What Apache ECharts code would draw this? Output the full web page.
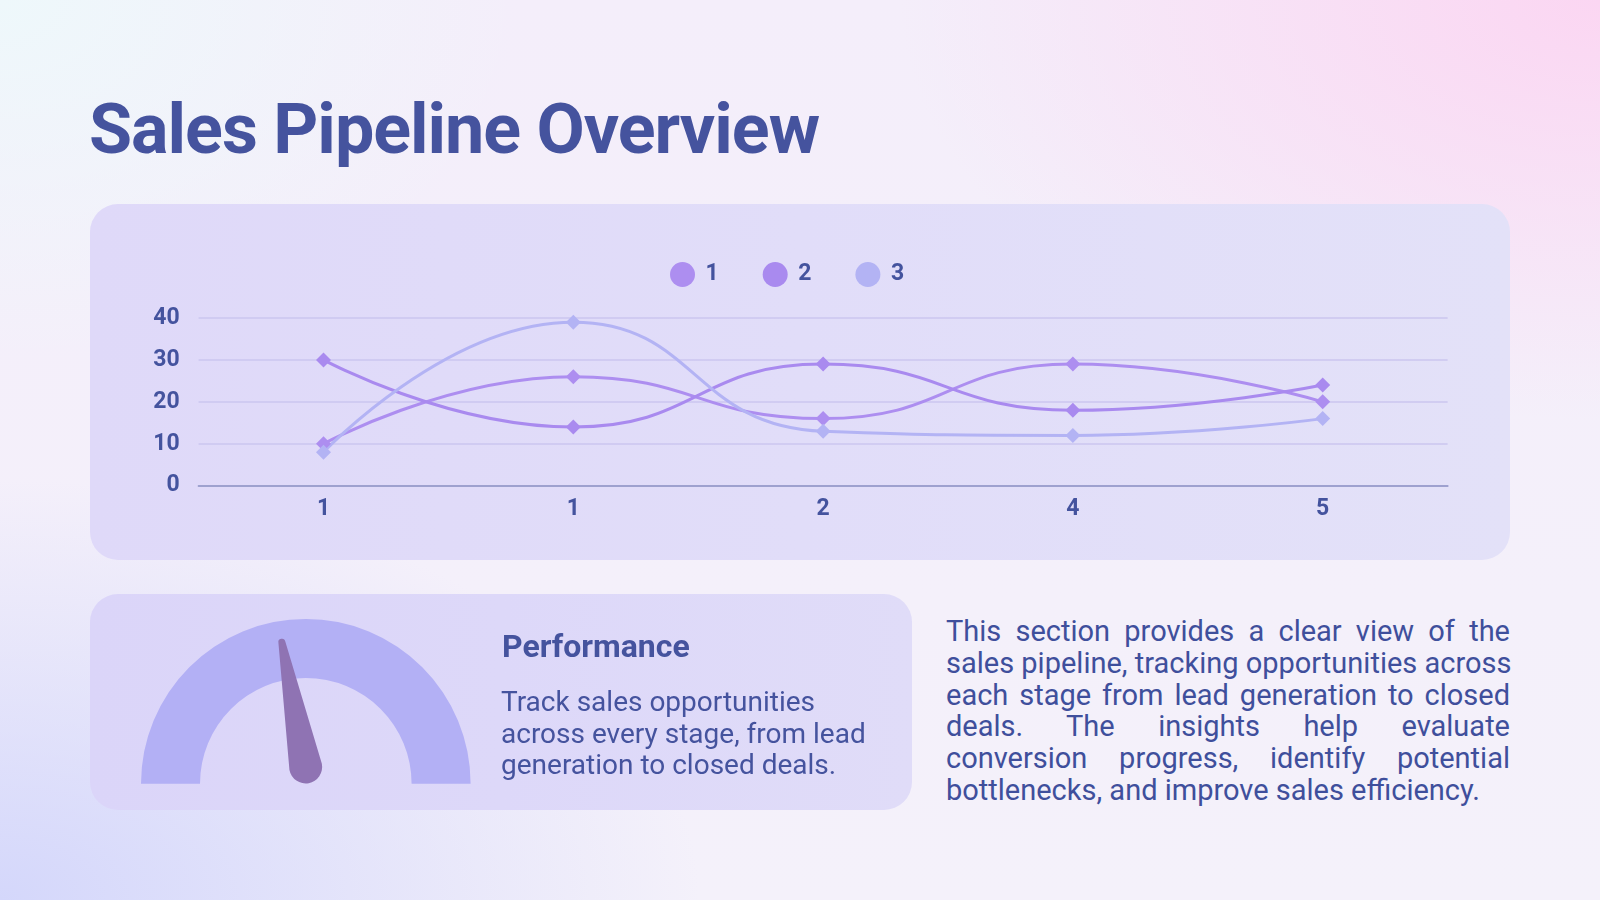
<!DOCTYPE html>
<html>
<head>
<meta charset="utf-8">
<title>Sales Pipeline Overview</title>
<script src="https://cdn.jsdelivr.net/npm/echarts@6/dist/echarts.min.js"></script>
<style>
  html, body {
    margin: 0;
    padding: 0;
    width: 1600px;
    height: 900px;
    overflow: hidden;
    font-family: Roboto, "Noto Sans", sans-serif;
  }
  body {
    position: relative;
    background:
      radial-gradient(ellipse 700px 420px at 100% 0%, rgba(251, 214, 242, 1), rgba(251, 214, 242, 0) 100%),
      radial-gradient(ellipse 700px 420px at 0% 100%, rgba(212, 215, 251, 1), rgba(212, 215, 251, 0) 100%),
      radial-gradient(ellipse 520px 360px at 0% 0%, rgba(238, 248, 251, 1), rgba(238, 248, 251, 0) 100%),
      linear-gradient(180deg, #f4eefa 0%, #f4f1fa 100%);
  }
  .title {
    position: absolute;
    left: 89px;
    top: 94px;
    font-size: 70px;
    line-height: 70px;
    font-weight: 700;
    letter-spacing: -1px;
    color: #45539e;
    white-space: nowrap;
  }
  .card {
    position: absolute;
    border-radius: 28px;
  }
  #lineCard {
    left: 90px; top: 204px; width: 1420px; height: 356px;
    background: linear-gradient(90deg, #dfd9f9 0%, #e1ddf9 50%, #e3e1f8 100%);
  }
  #gaugeCard {
    left: 90px; top: 594px; width: 822px; height: 216px;
    background: linear-gradient(90deg, #dbd5f9 0%, #ddd8f9 50%, #e0dcf8 100%);
  }
  .chart {
    position: absolute;
    left: 0; top: 0; width: 100%; height: 100%;
  }
  .perf-head {
    position: absolute;
    left: 502px; top: 630px;
    font-size: 32px; line-height: 32px; font-weight: 700;
    color: #45539e;
    white-space: nowrap;
  }
  .perf-body {
    position: absolute;
    left: 501px; top: 686px;
    font-size: 28px; line-height: 31.7px;
    color: #45539e;
    white-space: nowrap;
  }
  .para {
    position: absolute;
    left: 946px; top: 616px; width: 564px;
    font-size: 29px; line-height: 31.8px;
    color: #3f4f9c;
  }
  .para span {
    display: block;
    text-align: justify;
    text-align-last: justify;
    white-space: nowrap;
  }
  .para span.last {
    text-align: left;
    text-align-last: left;
  }
</style>
</head>
<body>
  <div class="title">Sales Pipeline Overview</div>

  <div class="card" id="lineCard"><div class="chart" id="lineChart"></div></div>
  <div class="card" id="gaugeCard"><div class="chart" id="gaugeChart"></div></div>

  <div class="perf-head">Performance</div>
  <div class="perf-body">Track sales opportunities<br>across every stage, from lead<br>generation to closed deals.</div>

  <div class="para">
    <span>This section provides a clear view of the</span>
    <span>sales pipeline, tracking opportunities across</span>
    <span>each stage from lead generation to closed</span>
    <span>deals. The insights help evaluate</span>
    <span>conversion progress, identify potential</span>
    <span class="last">bottlenecks, and improve sales efficiency.</span>
  </div>

<script>
  // chart data
  const categories = ['1', '1', '2', '4', '5'];
  const seriesNames = ['1', '2', '3'];
  const series1 = [10, 26, 16, 29, 20];
  const series2 = [30, 14, 29, 18, 24];
  const series3 = [8, 39, 13, 12, 16];
  const yTicks = [0, 10, 20, 30, 40];
  const gaugeValue = 44;
  const gaugeMax = 100;

  const lineColors = ['#ad8ef0', '#a98aef', '#b3b3f4'];
  const textColor = '#44539e';

  // line chart
  const lineChart = echarts.init(document.getElementById('lineChart'));

  const makeSeries = (name, data, color) => ({
    name: name,
    type: 'line',
    data: data,
    smooth: true,
    symbol: 'diamond',
    symbolSize: 15,
    showAllSymbol: true,
    lineStyle: { width: 3, color: color },
    itemStyle: { color: color },
    emphasis: { disabled: true }
  });

  lineChart.setOption({
    animation: false,
    color: lineColors,
    legend: {
      data: seriesNames,
      left: 575,
      top: 53,
      icon: 'circle',
      itemWidth: 36,
      itemHeight: 25,
      itemGap: 44,
      textStyle: { color: textColor, fontSize: 23, fontWeight: 'bold', fontFamily: 'Roboto' }
    },
    grid: { left: 108.6, right: 62.4, top: 114, bottom: 74.3 },
    xAxis: {
      type: 'category',
      data: categories,
      boundaryGap: true,
      axisLine: { lineStyle: { color: '#9ea1cf', width: 2 } },
      axisTick: { show: false },
      axisLabel: { color: textColor, fontSize: 23, fontWeight: 'bold', fontFamily: 'Roboto', margin: 12 },
      splitLine: { show: false }
    },
    yAxis: {
      type: 'value',
      min: yTicks[0],
      max: yTicks[yTicks.length - 1],
      interval: yTicks[1] - yTicks[0],
      axisLine: { show: false },
      axisTick: { show: false },
      axisLabel: { color: textColor, fontSize: 23, fontWeight: 'bold', fontFamily: 'Roboto', margin: 19 },
      splitLine: { lineStyle: { color: '#cbc6ef', width: 1.5 } }
    },
    series: [
      makeSeries(seriesNames[0], series1, lineColors[0]),
      makeSeries(seriesNames[1], series2, lineColors[1]),
      makeSeries(seriesNames[2], series3, lineColors[2])
    ]
  });

  // gauge
  const gaugeChart = echarts.init(document.getElementById('gaugeChart'));
  gaugeChart.setOption({
    animation: false,
    series: [{
      type: 'gauge',
      center: [215.8, 189.7],
      radius: 164.8,
      startAngle: 180,
      endAngle: 0,
      min: 0,
      max: gaugeMax,
      axisLine: { lineStyle: { width: 59, color: [[1, '#b3b0f5']] } },
      splitLine: { show: false },
      axisTick: { show: false },
      axisLabel: { show: false },
      progress: { show: false },
      anchor: { show: false },
      title: { show: false },
      detail: { show: false },
      pointer: {
        icon: 'path://M13,3.5 A3.5,3.5 0 0 1 20,3.5 L33,130.5 A16.5,16.5 0 0 1 0,130.5 Z',
        length: 147,
        width: 33,
        offsetCenter: [3, 0],
        itemStyle: { color: '#8f73b3' }
      },
      data: [{ value: gaugeValue }]
    }]
  });
</script>
</body>
</html>
